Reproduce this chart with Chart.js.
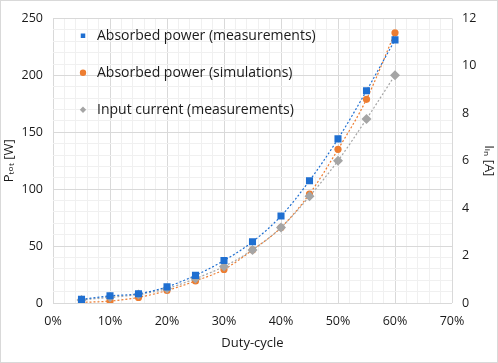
<!DOCTYPE html>
<html>
<head>
<meta charset="utf-8">
<script src="https://cdn.jsdelivr.net/npm/chart.js@4"></script>
<style>
  html, body { margin: 0; padding: 0; background: #fff; }
  #wrap { width: 498px; height: 363px; box-sizing: border-box; border: 1px solid #d9d9d9; }
  #wrap canvas { display: block; }
</style>
</head>
<body>
<div id="wrap"><canvas id="chart" width="496" height="361"></canvas></div>
<script>
// duty-cycle in %
const dutyCycle = [5, 10, 15, 20, 25, 30, 35, 40, 45, 50, 55, 60];
// absorbed power [W]
const powerMeasured = [3.2, 6.3, 8.1, 14.2, 24.3, 37.3, 53.8, 76.4, 107.5, 144.2, 186.5, 231.2];
const powerSimulated = [0.5, 1.7, 4.9, 11.0, 19.4, 29.5, 46.6, 66.3, 95.8, 135.0, 179.0, 237.5];
// input current [A]
const currentMeasured = [0.13, 0.24, 0.36, 0.61, 1.03, 1.54, 2.24, 3.18, 4.5, 6.0, 7.76, 9.61];

const labels = [
  "Absorbed power (measurements)",
  "Absorbed power (simulations)",
  "Input current (measurements)",
];

const pts = ys => ys.map((y, i) => ({ x: dutyCycle[i], y: y }));
const FONT = "'Open Sans', 'DejaVu Sans', sans-serif";
const TXT = "#1a1a1a";

new Chart(document.getElementById("chart"), {
  type: "line",
  data: {
    datasets: [
      {
        label: labels[0],
        data: pts(powerMeasured),
        yAxisID: "y",
        borderColor: "#1f6fd1",
        backgroundColor: "#1f6fd1",
        borderWidth: 1.2,
        borderDash: [2, 2],
        pointStyle: "rect",
        pointRadius: 5,
        pointBorderWidth: 0,
        cubicInterpolationMode: "monotone",
        order: 0,
      },
      {
        label: labels[1],
        data: pts(powerSimulated),
        yAxisID: "y",
        borderColor: "#ed7d31",
        backgroundColor: "#ed7d31",
        borderWidth: 1.2,
        borderDash: [2, 2],
        pointStyle: "circle",
        pointRadius: 3.6,
        pointBorderWidth: 0,
        cubicInterpolationMode: "monotone",
        order: 2,
      },
      {
        label: labels[2],
        data: pts(currentMeasured),
        yAxisID: "y1",
        borderColor: "#a5a5a5",
        backgroundColor: "#a5a5a5",
        borderWidth: 1.2,
        borderDash: [2, 2],
        pointStyle: "rectRot",
        pointRadius: 5,
        pointBorderWidth: 0,
        cubicInterpolationMode: "monotone",
        order: 1,
      },
    ],
  },
  options: {
    responsive: false,
    animation: false,
    layout: { padding: { top: 14, left: 0, right: 0, bottom: 7 } },
    plugins: {
      tooltip: { enabled: false },
      legend: {
        position: "chartArea",
        align: "start",
        title: { display: true, text: " ", font: { size: 4 }, padding: 0 },
        labels: {
          usePointStyle: true,
          boxWidth: 14,
          boxHeight: 4.5,
          padding: 23,
          color: TXT,
          font: { family: FONT, size: 14 },
          sort: (a, b) => a.datasetIndex - b.datasetIndex,
        },
      },
    },
    scales: {
      x: {
        type: "linear",
        min: 0,
        max: 70,
        afterFit: s => { s.height = 52; },
        ticks: {
          stepSize: 2,
          autoSkip: false,
          maxRotation: 0,
          padding: 11,
          color: TXT,
          font: { family: FONT, size: 12.5 },
          callback: v => (Math.round(v) % 10 === 0 ? Math.round(v) + "%" : ""),
        },
        grid: {
          drawTicks: false,
          color: c => (Math.round(c.tick.value) % 10 === 0 ? "#d9d9d9" : "#f0f0f0"),
        },
        border: { display: false },
        title: {
          display: true,
          text: "Duty-cycle",
          color: TXT,
          font: { family: FONT, size: 13 },
          padding: { top: 2 },
        },
      },
      y: {
        position: "left",
        min: 0,
        max: 250,
        afterFit: s => { s.width = 52; },
        ticks: {
          stepSize: 10,
          autoSkip: false,
          padding: 10,
          color: TXT,
          font: { family: FONT, size: 12.5 },
          callback: v => (Math.round(v) % 50 === 0 ? Math.round(v) : ""),
        },
        grid: {
          drawTicks: false,
          color: c => (Math.round(c.tick.value) % 50 === 0 ? "#d9d9d9" : "#f0f0f0"),
        },
        border: { display: false },
        title: {
          display: true,
          text: "Pₜₒₜ [W]",
          color: TXT,
          font: { family: FONT, size: 13 },
          padding: 0,
        },
      },
      y1: {
        position: "right",
        min: 0,
        max: 12,
        afterFit: s => { s.width = 45; },
        ticks: {
          stepSize: 2,
          padding: 10,
          color: TXT,
          font: { family: FONT, size: 12.5 },
        },
        grid: { drawOnChartArea: false, drawTicks: false },
        border: { display: false },
        title: {
          display: true,
          text: "Iᵢₙ [A]",
          color: TXT,
          font: { family: FONT, size: 13 },
          padding: 0,
        },
      },
    },
  },
});
</script>
</body>
</html>
